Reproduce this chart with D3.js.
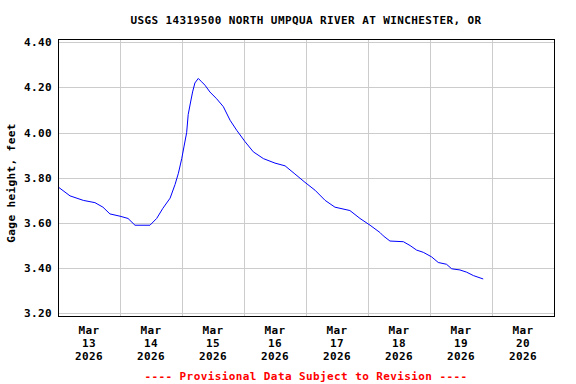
<!DOCTYPE html>
<html>
<head>
<meta charset="utf-8">
<script src="https://cdn.jsdelivr.net/npm/d3@7.9.0/dist/d3.min.js"></script>
<style>
  body { margin: 0; background: #fff; }
  svg text { font-family: 'DejaVu Sans Mono', monospace; font-weight: bold; font-size: 11px; letter-spacing: 0.4px; }
</style>
</head>
<body>
<svg id="chart" width="576" height="384"></svg>
<script>
// hours after Mar 13 2026 00:00, gage height in feet
const hours = [0, 4.65, 9.8, 14.3, 17.4, 20.1, 24.0, 27.1, 29.8, 35.6, 38.2, 40.6, 43.4, 45.3, 46.6,
  47.9, 48.8, 49.8, 50.4, 51.4, 52.1, 53.0, 54.3, 55.6, 56.9, 58.8, 61.4, 64.0, 66.6, 69.2,
  72.4, 75.6, 79.5, 84.0, 87.9, 91.7, 95.6, 99.5, 103.4, 107.2, 113.0, 116.9, 120.8, 124.6,
  125.9, 128.5, 133.7, 136.3, 138.8, 141.4, 144.6, 147.2, 150.4, 152.4, 155.6, 158.2, 160.8, 164.6];
const heights = [3.76, 3.72, 3.70, 3.69, 3.67, 3.64, 3.63, 3.62, 3.59, 3.59, 3.62, 3.665, 3.71, 3.77, 3.82,
  3.885, 3.94, 4.00, 4.08, 4.14, 4.18, 4.22, 4.24, 4.225, 4.21, 4.18, 4.15, 4.115, 4.055, 4.01,
  3.96, 3.915, 3.885, 3.865, 3.853, 3.817, 3.78, 3.745, 3.70, 3.67, 3.655, 3.62, 3.59, 3.558,
  3.543, 3.52, 3.517, 3.50, 3.48, 3.47, 3.45, 3.425, 3.417, 3.397, 3.392, 3.382, 3.367, 3.352];
const yTicks = [3.2, 3.4, 3.6, 3.8, 4.0, 4.2, 4.4];
const dayLabels = ['13', '14', '15', '16', '17', '18', '19', '20'];

const title = 'USGS 14319500 NORTH UMPQUA RIVER AT WINCHESTER, OR';
const yTitle = 'Gage height, feet';
const footer = '---- Provisional Data Subject to Revision ----';

const start = new Date(2026, 2, 13);
const data = hours.map((h, i) => ({ t: new Date(+start + h * 3600e3), v: heights[i] }));

const box = { left: 58, right: 554, top: 39, bottom: 316 };
const svg = d3.select('#chart');

const x = d3.scaleTime()
  .domain([start, d3.timeDay.offset(start, 8)])
  .range([box.left, box.right]);
const y = d3.scaleLinear()
  .domain([3.2, 4.4])
  .range([313.3, 42.3]);

// grid
const days = d3.timeDay.range(d3.timeDay.offset(start, 1), d3.timeDay.offset(start, 8));
svg.append('g').selectAll('line').data(days).join('line')
  .attr('x1', d => x(d) + 0.5).attr('x2', d => x(d) + 0.5)
  .attr('y1', box.top).attr('y2', box.bottom)
  .attr('stroke', '#cccccc');
svg.append('g').selectAll('line').data(yTicks).join('line')
  .attr('x1', box.left).attr('x2', box.right)
  .attr('y1', d => Math.round(y(d)) + 0.5).attr('y2', d => Math.round(y(d)) + 0.5)
  .attr('stroke', '#cccccc');

// data line
svg.append('path')
  .datum(data)
  .attr('fill', 'none')
  .attr('stroke', '#0000ff')
  .attr('stroke-width', 1)
  .attr('d', d3.line().x(d => x(d.t)).y(d => y(d.v)));

// frame
svg.append('rect')
  .attr('x', box.left + 0.5).attr('y', box.top + 0.5)
  .attr('width', box.right - box.left).attr('height', box.bottom - box.top)
  .attr('fill', 'none').attr('stroke', '#000');

// y tick labels
svg.append('g').selectAll('text').data(yTicks).join('text')
  .attr('x', 52).attr('y', d => y(d) + 4)
  .attr('text-anchor', 'end')
  .text(d => d3.format('.2f')(d));

// x labels at noon of each day
const xl = svg.append('g').selectAll('text').data(dayLabels).join('text')
  .attr('text-anchor', 'middle')
  .attr('transform', (d, i) => `translate(${x(d3.timeHour.offset(start, i * 24 + 12))},0)`);
xl.append('tspan').attr('x', 0).attr('y', 334).text('Mar');
xl.append('tspan').attr('x', 0).attr('y', 347).text(d => d);
xl.append('tspan').attr('x', 0).attr('y', 360).text('2026');

svg.append('text')
  .attr('x', (box.left + box.right) / 2).attr('y', 24)
  .attr('text-anchor', 'middle')
  .text(title);

svg.append('text')
  .attr('transform', 'translate(15,183) rotate(-90)')
  .attr('text-anchor', 'middle')
  .text(yTitle);

svg.append('text')
  .attr('x', (box.left + box.right) / 2).attr('y', 380)
  .attr('text-anchor', 'middle')
  .attr('fill', '#ff0000')
  .text(footer);
</script>
</body>
</html>
